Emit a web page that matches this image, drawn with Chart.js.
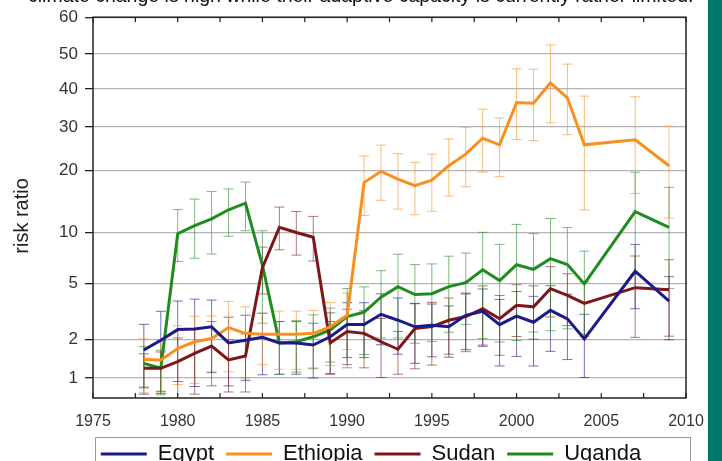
<!DOCTYPE html>
<html><head><meta charset="utf-8">
<script src="https://cdn.jsdelivr.net/npm/chart.js@4.4.1/dist/chart.umd.min.js"></script>
<style>
html,body{margin:0;padding:0;background:#fff;overflow:hidden}
#wrap{position:relative;width:722px;height:461px;overflow:hidden}
#cap{position:absolute;left:28px;top:-16px;font:19.5px "Liberation Sans",Arial,sans-serif;color:#111;white-space:nowrap}
#strip{position:absolute;left:708px;top:0;width:14px;height:461px;background:#00786a}
canvas{position:absolute;left:0;top:0}
</style></head><body>
<div id="wrap"><canvas id="c" width="722" height="461"></canvas><div id="cap">climate change is high while their adaptive capacity is currently rather limited.</div><div id="strip"></div></div>
<script>
// ---- data ----
const years = [1978,1979,1980,1981,1982,1983,1984,1985,1986,1987,1988,1989,1990,1991,1992,1993,1994,1995,1996,1997,1998,1999,2000,2001,2002,2003,2004,2007,2009];
const egypt    = [1.65,1.96,2.34,2.36,2.45,1.87,1.96,2.06,1.87,1.87,1.80,2.08,2.54,2.54,3.01,2.73,2.45,2.51,2.45,2.96,3.16,2.54,2.92,2.64,3.21,2.79,2.01,5.9,3.73];
const egyptErr = [0.9,1.2,1.4,1.5,1.35,1.0,1.0,1.0,0.8,0.8,0.8,1.0,1.1,1.1,1.2,1.2,1.15,1.05,1.0,1.3,1.4,1.3,1.45,1.4,1.6,1.4,1.0,2.6,1.75];
const ethiopia    = [1.39,1.38,1.69,1.91,2.02,2.42,2.20,2.17,2.17,2.17,2.20,2.45,2.96,17.5,19.85,18.2,16.9,18.0,20.95,23.3,27.0,25.4,36.1,35.9,41.6,37.4,25.4,26.6,20.95];
const ethiopiaErr = [0.62,0.6,0.8,1.0,0.9,1.3,1.2,0.9,1.0,1.0,1.0,1.2,1.3,5.4,5.5,5.2,4.7,5.3,5.9,6.6,7.3,6.7,9.4,9.5,10.7,9.5,12.5,11.1,9.2];
const sudan    = [1.19,1.19,1.34,1.55,1.77,1.38,1.48,6.2,10.6,10.0,9.38,1.87,2.27,2.20,1.91,1.67,2.38,2.46,2.73,2.90,3.30,2.80,3.49,3.40,4.58,4.10,3.60,4.66,4.50];
const sudanErr = [0.35,0.4,0.7,0.8,0.9,0.6,0.7,2.0,2.7,2.65,2.6,0.8,1.0,1.0,0.9,0.6,1.2,1.2,1.2,1.3,1.5,1.3,1.4,1.4,1.7,1.6,1.5,2.6,2.4];
const uganda    = [1.30,1.19,9.83,10.8,11.66,12.9,13.9,6.4,1.87,1.91,2.08,2.33,2.90,3.12,3.99,4.74,4.16,4.22,4.74,5.05,6.02,5.20,6.45,6.05,7.00,6.47,4.96,12.65,10.6];
const ugandaErr = [0.45,0.45,3.1,3.75,4.2,3.4,3.7,3.8,0.8,0.8,0.9,1.0,1.7,1.6,1.95,2.7,2.3,2.3,2.5,2.5,4.0,3.3,4.5,3.8,4.7,4.1,2.8,7.0,6.0];
const seriesNames = ['Egypt','Ethiopia','Sudan','Uganda'];
const yTicks = [1,2,5,10,20,30,40,50,60];
const xTicks = [1975,1980,1985,1990,1995,2000,2005,2010];

// ---- custom risk-ratio axis (non-uniform scale as in the original figure) ----
const AV = [1,2,5,10,20,30,40,50,60];
const AF = [0.0524,0.1545,0.301,0.4346,0.5969,0.712,0.8115,0.9031,1.0];
function toFrac(v){
  v = Math.max(v,1e-3);
  const lv = Math.log(v);
  let i = 0;
  if (v <= AV[0]) i = 0;
  else if (v >= AV[AV.length-1]) i = AV.length-2;
  else { while (v > AV[i+1]) i++; }
  const l0 = Math.log(AV[i]), l1 = Math.log(AV[i+1]);
  return AF[i] + (AF[i+1]-AF[i])*(lv-l0)/(l1-l0);
}
function fromFrac(f){
  let i = 0;
  if (f <= AF[0]) i = 0;
  else if (f >= AF[AF.length-1]) i = AF.length-2;
  else { while (f > AF[i+1]) i++; }
  const l0 = Math.log(AV[i]), l1 = Math.log(AV[i+1]);
  return Math.exp(l0 + (l1-l0)*(f-AF[i])/(AF[i+1]-AF[i]));
}
class RiskScale extends Chart.LogarithmicScale {
  getPixelForValue(v){ return this.getPixelForDecimal(toFrac(v)); }
  getValueForPixel(p){ return fromFrac(this.getDecimalForPixel(p)); }
}
RiskScale.id = 'riskratio';
RiskScale.defaults = Chart.LogarithmicScale.defaults;
Chart.register(RiskScale);

const FONT = '"Liberation Sans", Arial, sans-serif';
const colors = ['#1a1a8a','#f7901e','#7e1619','#1f8c1f'];
const barColors = ['rgba(40,40,150,0.65)','rgba(245,150,50,0.65)','rgba(130,30,35,0.6)','rgba(40,140,40,0.6)'];
const vals = [egypt, ethiopia, sudan, uganda];
const errs = [egyptErr, ethiopiaErr, sudanErr, ugandaErr];

const errorBars = {
  id:'errorBars',
  beforeDatasetsDraw(chart){
    const {ctx, chartArea:a, scales:{x,y}} = chart;
    ctx.save();
    ctx.beginPath(); ctx.rect(a.left,a.top,a.right-a.left,a.bottom-a.top); ctx.clip();
    ctx.lineWidth = 1;
    vals.forEach((arr,k)=>{
      ctx.strokeStyle = barColors[k];
      arr.forEach((v,j)=>{
        const px = x.getPixelForValue(years[j]);
        const t = y.getPixelForValue(v+errs[k][j]);
        const b = y.getPixelForValue(Math.max(v-errs[k][j],0.05));
        ctx.beginPath();
        ctx.moveTo(px,t); ctx.lineTo(px,b);
        ctx.moveTo(px-5,t); ctx.lineTo(px+5,t);
        ctx.moveTo(px-5,b); ctx.lineTo(px+5,b);
        ctx.stroke();
      });
    });
    ctx.restore();
  }
};
const legendShift = {
  id:'legendShift',
  afterLayout(chart){ const lg = chart.legend; lg.left += 28; lg.right += 28; }
};
const frame = {
  id:'frame',
  afterDraw(chart){
    const {ctx, chartArea:a, scales:{x}} = chart;
    ctx.save();
    ctx.strokeStyle = '#222'; ctx.lineWidth = 1.5;
    ctx.strokeRect(a.left,a.top,a.right-a.left,a.bottom-a.top);
    ctx.lineWidth = 1.2;
    for (let yr = 1975; yr <= 2010; yr += 2.5){
      const px = x.getPixelForValue(yr);
      ctx.beginPath();
      ctx.moveTo(px,a.bottom); ctx.lineTo(px,a.bottom-5);
      ctx.moveTo(px,a.top); ctx.lineTo(px,a.top+5);
      ctx.stroke();
    }
    ctx.strokeStyle = '#999'; ctx.lineWidth = 1;
    ctx.strokeRect(a.left+2.5, 437.5, a.right-a.left+2, 60);
    ctx.restore();
  }
};

const datasets = seriesNames.map((n,k)=>({
  label:n,
  data: vals[k].map((v,j)=>({x:years[j], y:v})),
  borderColor: colors[k], backgroundColor: colors[k],
  borderWidth: 3, pointRadius: 0, tension: 0, fill:false
}));

new Chart(document.getElementById('c'), {
  type:'line',
  data:{datasets},
  options:{
    responsive:false, animation:false,
    layout:{padding:{left:0,right:36,top:16,bottom:-14}},
    plugins:{
      legend:{position:'bottom',
        labels:{usePointStyle:true, pointStyle:'line', pointStyleWidth:46, boxHeight:17,
          font:{family:FONT,size:22}, color:'#111', padding:12}},
      tooltip:{enabled:false}
    },
    scales:{
      x:{type:'linear', min:1975, max:2010,
        afterBuildTicks:s=>{ s.ticks = xTicks.map(v=>({value:v})); },
        afterFit:s=>{ s.height = 33; },
        grid:{drawOnChartArea:false, drawTicks:false},
        border:{display:false},
        ticks:{font:{family:FONT,size:16}, color:'#333', padding:14, maxRotation:0, autoSkip:false,
          callback:v=>String(v)}
      },
      y:{type:'riskratio', min:0.7, max:60,
        afterBuildTicks:s=>{ s.ticks = yTicks.map(v=>({value:v})); },
        afterFit:s=>{ s.width = 93; },
        grid:{color:'#b4b4b4', lineWidth:1.3, tickLength:8, tickColor:'#222', tickWidth:1.3},
        border:{display:false},
        title:{display:true, text:'risk ratio   ', font:{family:FONT,size:20}, color:'#222', padding:{top:10,bottom:0}},
        ticks:{font:{family:FONT,size:17}, color:'#333', padding:7, autoSkip:false,
          callback:v=>String(v)}
      }
    }
  },
  plugins:[errorBars, legendShift, frame]
});
</script>
</body></html>
